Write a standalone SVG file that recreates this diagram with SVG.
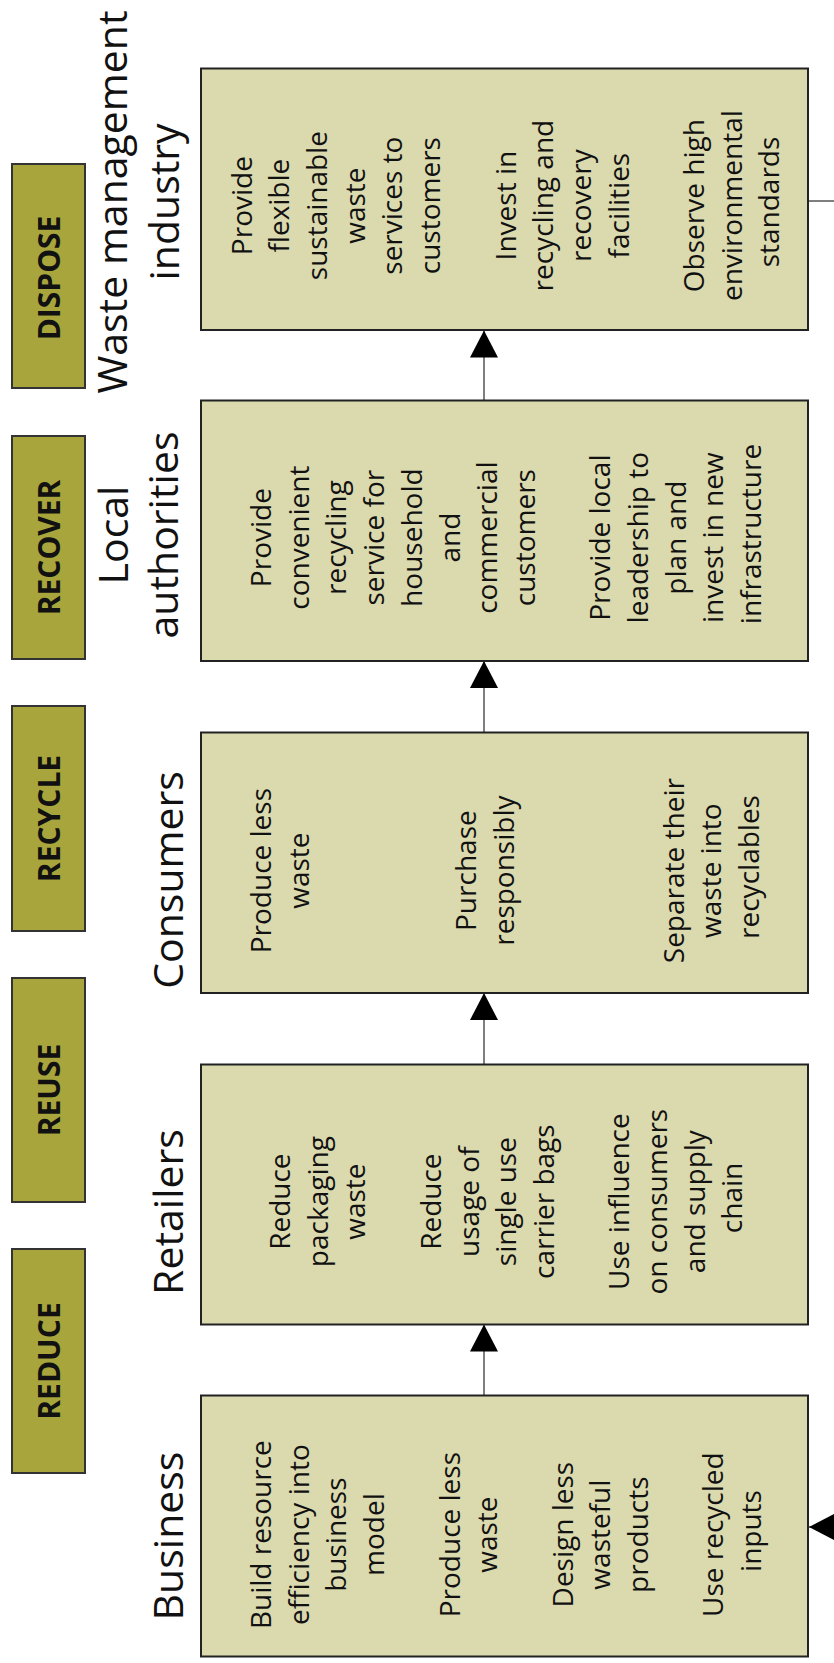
<svg xmlns="http://www.w3.org/2000/svg" width="834" height="1663" viewBox="0 0 834 1663">
<defs>
<style>
.box{fill:#dbd9ae;stroke:#222;stroke-width:2}
.tag{fill:#a8a53c;stroke:#333;stroke-width:2}
.tagt{font-family:"Open Sans","Liberation Sans",sans-serif;font-weight:bold;font-size:30px;fill:#111;text-anchor:middle}
.title{font-family:"Open Sans","Liberation Sans",sans-serif;font-size:41px;fill:#111;text-anchor:middle}
.body{font-family:"Open Sans","Liberation Sans",sans-serif;font-size:28px;fill:#111;text-anchor:middle}
.conn{fill:none;stroke:#555;stroke-width:1.5}
</style>
<marker id="ah" viewBox="0 0 27 28" refX="27" refY="14" markerWidth="27" markerHeight="28" markerUnits="userSpaceOnUse" orient="auto">
<path d="M0,0 L27,14 L0,28 z" fill="#000"/>
</marker>
</defs>
<rect width="834" height="1663" fill="#fff"/>

<g id="connectors">
<path class="conn" d="M484,400.5 V330.5" marker-end="url(#ah)"/>
<path class="conn" d="M484,732.5 V661" marker-end="url(#ah)"/>
<path class="conn" d="M484,1064.5 V993" marker-end="url(#ah)"/>
<path class="conn" d="M484,1395.5 V1324.5" marker-end="url(#ah)"/>
<path class="conn" d="M808,201 H880 V1527 H809" marker-end="url(#ah)"/>
</g>

<g id="tag-dispose">
<rect class="tag" x="12" y="164" width="73" height="224"/>
<text class="tagt" transform="translate(60,278) rotate(-90)">DISPOSE</text>
</g>
<g id="tag-recover">
<rect class="tag" x="12" y="436" width="73" height="223"/>
<text class="tagt" transform="translate(60,547.5) rotate(-90)">RECOVER</text>
</g>
<g id="tag-recycle">
<rect class="tag" x="12" y="706" width="73" height="225"/>
<text class="tagt" transform="translate(60,818.5) rotate(-90)">RECYCLE</text>
</g>
<g id="tag-reuse">
<rect class="tag" x="12" y="978" width="73" height="224"/>
<text class="tagt" transform="translate(60,1090) rotate(-90)">REUSE</text>
</g>
<g id="tag-reduce">
<rect class="tag" x="12" y="1249" width="73" height="224"/>
<text class="tagt" transform="translate(60,1361) rotate(-90)">REDUCE</text>
</g>

<g id="node-waste">
<text class="title" transform="translate(127,202) rotate(-90)"><tspan x="0" y="0">Waste management</tspan><tspan x="0" y="51.5">industry</tspan></text>
<rect class="box" x="201" y="68.5" width="607" height="261.5"/>
<text class="body" transform="translate(251.7,202) rotate(-90)">
<tspan x="0" y="0">Provide</tspan>
<tspan x="0" y="37.7">flexible</tspan>
<tspan x="0" y="75.4">sustainable</tspan>
<tspan x="0" y="113.1">waste</tspan>
<tspan x="0" y="150.8">services to</tspan>
<tspan x="0" y="188.5">customers</tspan>
<tspan x="0" y="263.9">Invest in</tspan>
<tspan x="0" y="301.6">recycling and</tspan>
<tspan x="0" y="339.3">recovery</tspan>
<tspan x="0" y="377">facilities</tspan>
<tspan x="0" y="452.4">Observe high</tspan>
<tspan x="0" y="490.1">environmental</tspan>
<tspan x="0" y="527.8">standards</tspan>
</text>
</g>

<g id="node-local">
<text class="title" transform="translate(128,535) rotate(-90)"><tspan x="0" y="0">Local</tspan><tspan x="0" y="50">authorities</tspan></text>
<rect class="box" x="201" y="400.5" width="607" height="260.5"/>
<text class="body" transform="translate(271,534) rotate(-90)">
<tspan x="0" y="0">Provide</tspan>
<tspan x="0" y="37.7">convenient</tspan>
<tspan x="0" y="75.4">recycling</tspan>
<tspan x="0" y="113.1">service for</tspan>
<tspan x="0" y="150.8">household</tspan>
<tspan x="0" y="188.5">and</tspan>
<tspan x="0" y="226.2">commercial</tspan>
<tspan x="0" y="263.9">customers</tspan>
<tspan x="0" y="339.3">Provide local</tspan>
<tspan x="0" y="377">leadership to</tspan>
<tspan x="0" y="414.7">plan and</tspan>
<tspan x="0" y="452.4">invest in new</tspan>
<tspan x="0" y="490.1">infrastructure</tspan>
</text>
</g>

<g id="node-consumers">
<text class="title" transform="translate(183,880) rotate(-90)">Consumers</text>
<rect class="box" x="201" y="732.5" width="607" height="260.5"/>
<text class="body" transform="translate(271,867) rotate(-90)">
<tspan x="0" y="0">Produce less</tspan>
<tspan x="0" y="37.7">waste</tspan>
<tspan x="0" y="205">Purchase</tspan>
<tspan x="0" y="242.7">responsibly</tspan>
<tspan x="0" y="412.5">Separate their</tspan>
<tspan x="0" y="450.2">waste into</tspan>
<tspan x="0" y="487.9">recyclables</tspan>
</text>
</g>

<g id="node-retailers">
<text class="title" transform="translate(183,1212) rotate(-90)">Retailers</text>
<rect class="box" x="201" y="1064.5" width="607" height="260"/>
<text class="body" transform="translate(290,1198) rotate(-90)">
<tspan x="0" y="0">Reduce</tspan>
<tspan x="0" y="37.7">packaging</tspan>
<tspan x="0" y="75.4">waste</tspan>
<tspan x="0" y="150.8">Reduce</tspan>
<tspan x="0" y="188.5">usage of</tspan>
<tspan x="0" y="226.2">single use</tspan>
<tspan x="0" y="263.9">carrier bags</tspan>
<tspan x="0" y="339.3">Use influence</tspan>
<tspan x="0" y="377">on consumers</tspan>
<tspan x="0" y="414.7">and supply</tspan>
<tspan x="0" y="452.4">chain</tspan>
</text>
</g>

<g id="node-business">
<text class="title" transform="translate(183,1536) rotate(-90)">Business</text>
<rect class="box" x="201" y="1395.5" width="607" height="261"/>
<text class="body" transform="translate(271,1531) rotate(-90)">
<tspan x="0" y="0">Build resource</tspan>
<tspan x="0" y="37.7">efficiency into</tspan>
<tspan x="0" y="75.4">business</tspan>
<tspan x="0" y="113.1">model</tspan>
<tspan x="0" y="188.5">Produce less</tspan>
<tspan x="0" y="226.2">waste</tspan>
<tspan x="0" y="301.6">Design less</tspan>
<tspan x="0" y="339.3">wasteful</tspan>
<tspan x="0" y="377">products</tspan>
<tspan x="0" y="452.4">Use recycled</tspan>
<tspan x="0" y="490.1">inputs</tspan>
</text>
</g>
</svg>
